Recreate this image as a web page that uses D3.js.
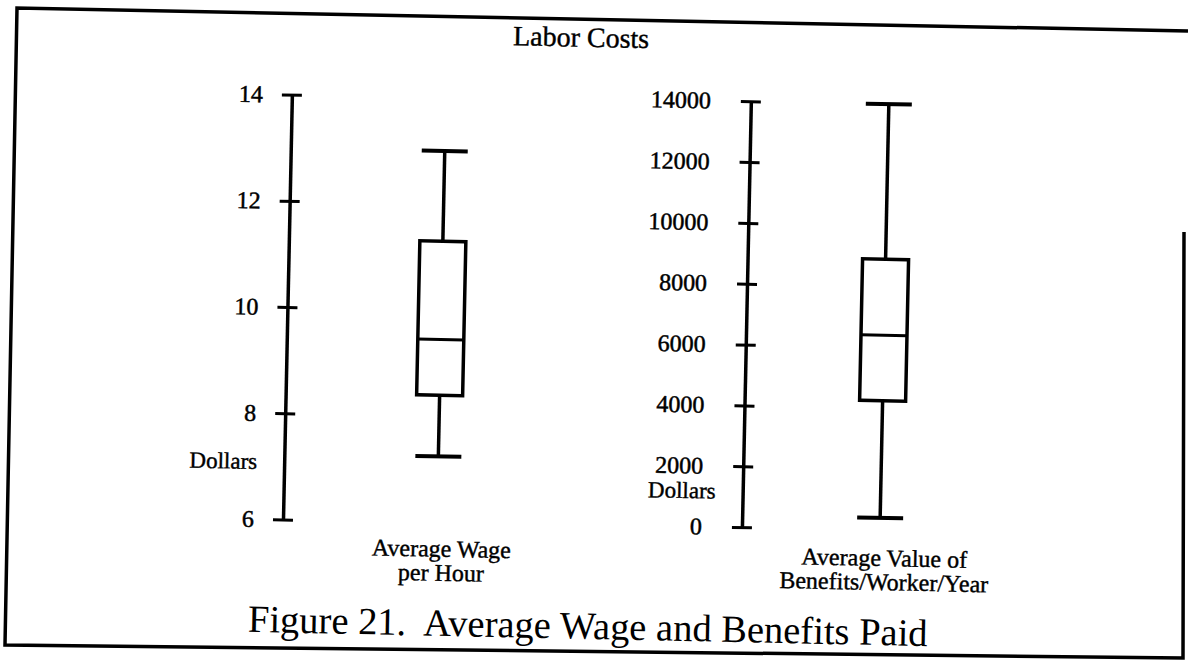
<!DOCTYPE html>
<html>
<head>
<meta charset="utf-8">
<script src="https://cdn.jsdelivr.net/npm/d3@7"></script>
<style>
  body { margin: 0; background: #fff; }
  svg { display: block; }
  text { font-family: "Liberation Serif", "Times New Roman", serif; fill: #000; }
</style>
</head>
<body>
<svg></svg>
<script>
// Chart values
var categories = [["Average Wage", "per Hour"], ["Average Value of", "Benefits/Worker/Year"]]
var wageStats = [7.25, 8.4, 9.45, 11.3, 13.0]          // min, q1, median, q3, max
var benefitStats = [400, 4250, 6400, 8900, 14000]
var wageTicks = [6, 8, 10, 12, 14]
var benefitTicks = [0, 2000, 4000, 6000, 8000, 10000, 12000, 14000]

var width = 1188,
    height = 663

var svg = d3.select("svg")
    .attr("width", width)
    .attr("height", height)

// Page frame (the scan is slightly skewed)
svg.append("path")
    .attr("d", "M1188,31 L17,8 L5,645 L1183,658 L1184,232")
    .style("fill", "none")
    .style("stroke", "#000")
    .style("stroke-width", 3.5)

// Everything inside is rotated a little, like the scanned page
var g = svg.append("g")
    .attr("transform", "rotate(1.2," + width / 2 + "," + height / 2 + ")")

// Scales for the two panels
var yWage = d3.scaleLinear()
    .domain([6, 14])
    .range([526, 101])

var yBenefit = d3.scaleLinear()
    .domain([0, 14000])
    .range([524, 98])

var panels = [
    {axisX: 287, boxX: 441, y: yWage, ticks: wageTicks, stats: wageStats, labelX: 258, dollarsX: 260, dollarsY: 476},
    {axisX: 746, boxX: 884, y: yBenefit, ticks: benefitTicks, stats: benefitStats, labelX: 706, dollarsX: 719, dollarsY: 496}
]

var boxWidth = 46

panels.forEach(function(p, i) {
    // Axis with ticks crossing both sides
    var axis = g.append("g")
        .attr("transform", "translate(" + p.axisX + ",0)")
        .call(d3.axisLeft(p.y)
            .tickValues(p.ticks)
            .tickFormat(d3.format("d"))
            .tickSizeOuter(0)
            .tickSizeInner(10)
            .tickPadding(p.axisX - p.labelX - 10))

    axis.select(".domain")
        .style("stroke", "#000")
        .style("stroke-width", 3.5)
    axis.selectAll(".tick line")
        .attr("x1", -10)
        .attr("x2", 10)
        .style("stroke", "#000")
        .style("stroke-width", 3)
    axis.selectAll(".tick text")
        .style("font-size", "24px")
        .style("font-family", "Liberation Serif")
        .style("fill", "#000")
        .style("stroke", "#000")
        .style("stroke-width", 0.5)

    // "Dollars" label
    g.append("text")
        .attr("x", p.dollarsX)
        .attr("y", p.dollarsY)
        .attr("text-anchor", "end")
        .style("font-size", "23px")
        .style("stroke", "#000")
        .style("stroke-width", 0.4)
        .text("Dollars")

    // Box plot
    var s = p.stats
    var box = g.append("g")
        .style("stroke", "#000")
        .style("fill", "none")

    box.append("line")
        .attr("x1", p.boxX).attr("x2", p.boxX)
        .attr("y1", p.y(s[0])).attr("y2", p.y(s[1]))
        .style("stroke-width", 3.5)
    box.append("line")
        .attr("x1", p.boxX).attr("x2", p.boxX)
        .attr("y1", p.y(s[3])).attr("y2", p.y(s[4]))
        .style("stroke-width", 3.5)

    box.selectAll(".cap")
        .data([s[0], s[4]])
        .enter().append("line")
        .attr("class", "cap")
        .attr("x1", p.boxX - boxWidth / 2).attr("x2", p.boxX + boxWidth / 2)
        .attr("y1", function(d) { return p.y(d) })
        .attr("y2", function(d) { return p.y(d) })
        .style("stroke-width", 4)

    box.append("rect")
        .attr("x", p.boxX - boxWidth / 2)
        .attr("y", p.y(s[3]))
        .attr("width", boxWidth)
        .attr("height", p.y(s[1]) - p.y(s[3]))
        .style("fill", "#fff")
        .style("stroke-width", 3.5)

    box.append("line")
        .attr("x1", p.boxX - boxWidth / 2).attr("x2", p.boxX + boxWidth / 2)
        .attr("y1", p.y(s[2])).attr("y2", p.y(s[2]))
        .style("stroke-width", 3)

    // Category label under each panel
    var lab = g.append("text")
        .attr("text-anchor", "middle")
        .style("font-size", "24px")
        .style("stroke", "#000")
        .style("stroke-width", 0.4)
    lab.selectAll("tspan")
        .data(categories[i])
        .enter().append("tspan")
        .attr("x", p.boxX + 5)
        .attr("y", function(d, j) { return 560 + j * 24 })
        .text(function(d) { return d })
})

// Title
g.append("text")
    .attr("x", 575)
    .attr("y", 47)
    .attr("text-anchor", "middle")
    .style("font-size", "28px")
    .style("stroke", "#000")
    .style("stroke-width", 0.4)
    .text("Labor Costs")

// Figure caption
g.append("text")
    .attr("x", 594)
    .attr("y", 639)
    .attr("text-anchor", "middle")
    .style("font-size", "38.5px")
    .style("white-space", "pre")
    .text("Figure 21.  Average Wage and Benefits Paid")
</script>
</body>
</html>
